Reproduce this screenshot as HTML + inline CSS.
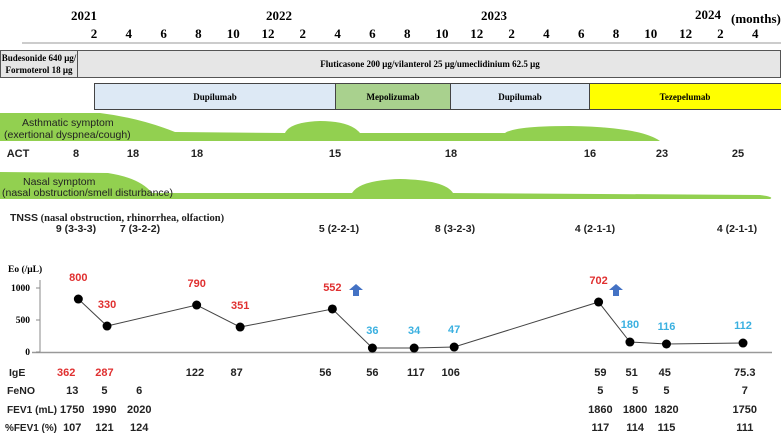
<!DOCTYPE html>
<html><head><meta charset="utf-8"><style>
body{margin:0;background:#fff;}
svg{display:block;font-family:"Liberation Sans",sans-serif;}
.s{font-family:"Liberation Serif",serif;font-weight:bold;}
.b{font-weight:bold;font-size:11px;fill:#222;}
</style></head><body>
<svg width="781" height="439" viewBox="0 0 781 439">
<g class="s" font-size="13">
<text x="71" y="20">2021</text>
<text x="266" y="20">2022</text>
<text x="481" y="20">2023</text>
<text x="695" y="19">2024</text>
<text x="731" y="23">(months)</text>
<g id="mticks" text-anchor="middle"></g>
<line x1="22" y1="43" x2="781" y2="43" stroke="#999" stroke-width="1"/>
</g>
<g class="s" font-size="9">
<rect x="0.5" y="50.5" width="77" height="27" fill="#e6e6e6" stroke="#555"/>
<text x="39" y="61" text-anchor="middle">Budesonide 640 μg/</text>
<text x="39" y="73" text-anchor="middle">Formoterol 18 μg</text>
<rect x="77.5" y="50.5" width="703" height="27" fill="#e6e6e6" stroke="#555"/>
<text x="430" y="67" text-anchor="middle">Fluticasone 200 μg/vilanterol 25 μg/umeclidinium 62.5 μg</text>
</g>
<g class="s" font-size="9">
<rect x="94.5" y="83.5" width="241" height="26" fill="#dde9f5" stroke="#444"/>
<text x="215" y="100" text-anchor="middle">Dupilumab</text>
<rect x="335.5" y="83.5" width="115" height="26" fill="#a9d18e" stroke="#444"/>
<text x="393" y="100" text-anchor="middle">Mepolizumab</text>
<rect x="450.5" y="83.5" width="139" height="26" fill="#dde9f5" stroke="#444"/>
<text x="520" y="100" text-anchor="middle">Dupilumab</text>
<rect x="589.5" y="83.5" width="192" height="26" fill="#ffff00" stroke="#444"/>
<text x="685" y="100" text-anchor="middle">Tezepelumab</text>
</g>
<g>
<path d="M0 113 L100 113 Q140 118 175 132 L285 133 Q290 122 320 121 Q350 121 360 133 L505 133 Q515 126 570 126 Q640 127 660 141 L0 141 Z" fill="#92d050"/>
<text x="22" y="126" font-size="10.5" fill="#222">Asthmatic symptom</text>
<text x="4" y="138" font-size="10.5" fill="#222">(exertional dyspnea/cough)</text>
</g>
<g class="b" text-anchor="middle">
<text x="18" y="157">ACT</text>
<text x="76" y="157">8</text><text x="133" y="157">18</text><text x="197" y="157">18</text>
<text x="335" y="157">15</text><text x="451" y="157">18</text><text x="590" y="157">16</text>
<text x="662" y="157">23</text><text x="738" y="157">25</text>
</g>
<g>
<path d="M0 172 L108 173 Q140 178 152 193 L352 193 Q360 180 400 179 Q445 180 453 193 L760 195 Q775 197 770 199 L0 199 Z" fill="#92d050"/>
<text x="23" y="185" font-size="10.5" fill="#222">Nasal symptom</text>
<text x="2" y="196" font-size="10.5" fill="#222">(nasal obstruction/smell disturbance)</text>
</g>
<g font-size="10.5" fill="#222">
<text x="10" y="221"><tspan font-weight="bold">TNSS</tspan><tspan class="s"> (nasal obstruction, rhinorrhea, olfaction)</tspan></text>
<g text-anchor="middle" font-weight="bold">
<text x="76" y="232">9 (3-3-3)</text><text x="140" y="232">7 (3-2-2)</text><text x="339" y="232">5 (2-2-1)</text>
<text x="455" y="232">8 (3-2-3)</text><text x="595" y="232">4 (2-1-1)</text><text x="737" y="232">4 (2-1-1)</text>
</g></g>
<g>
<text x="8" y="272" class="s" font-size="9.5">Eo (/μL)</text>
<line x1="40" y1="280" x2="40" y2="353" stroke="#888"/>
<line x1="32" y1="352.5" x2="772" y2="352.5" stroke="#999" stroke-width="1.5"/>
<g id="yt" class="s" font-size="9.5" text-anchor="end"></g>
<polyline id="eoLine" fill="none" stroke="#444" stroke-width="1"/>
<g id="eoPts"></g>
<g id="eoLbl" font-size="11" font-weight="bold" text-anchor="middle"></g>
<path d="M349 290 l7 -6 l7 6 h-4 v6 h-6 v-6 z" fill="#4472c4"/>
<path d="M609 290 l7 -6 l7 6 h-4 v6 h-6 v-6 z" fill="#4472c4"/>
</g>
<g class="b">
<text x="9" y="376" font-size="10.5">IgE</text><text x="7" y="394" font-size="10.5">FeNO</text>
<text x="7" y="413" font-size="10" textLength="50" lengthAdjust="spacingAndGlyphs">FEV1 (mL)</text>
<text x="5" y="431" font-size="10" textLength="52" lengthAdjust="spacingAndGlyphs">%FEV1 (%)</text>
<g id="labs" text-anchor="middle"></g>
</g>
</svg>
<script>
const monthLabels=["2","4","6","8","10","12","2","4","6","8","10","12","2","4","6","8","10","12","2","4"];
const eoMonths=[-0.9,0.75,5.9,8.4,13.7,16,18.4,20.7,29,30.8,32.9,37.3];
const eoValues=[828,406,734,390,672,62,62,78,781,156,125,140];
const eoLabels=["800","330","790","351","552","36","34","47","702","180","116","112"];
const eoLabelColor=["r","r","r","r","r","b","b","b","r","b","b","b"];
const yTicks=[0,500,1000];
const igeMonths=[-1.6,0.6,5.8,8.2,13.3,16,18.5,20.5,29.1,30.9,32.8,37.4];
const igeValues=["362","287","122","87","56","56","117","106","59","51","45","75.3"];
const igeRed=[true,true,false,false,false,false,false,false,false,false,false,false];
const fenoMonths=[-1.25,0.6,2.6,29.1,31.1,32.9,37.4];
const fenoValues=["13","5","6","5","5","5","7"];
const fev1Values=["1750","1990","2020","1860","1800","1820","1750"];
const pfev1Values=["107","121","124","117","114","115","111"];
const NS="http://www.w3.org/2000/svg";
const xm=m=>94+m*17.4;
const y=v=>352-v*0.064;
function mk(tag,attrs,parent,txt){const e=document.createElementNS(NS,tag);for(const k in attrs)e.setAttribute(k,attrs[k]);if(txt!==undefined)e.textContent=txt;parent.appendChild(e);return e;}
const mt=document.getElementById('mticks');
monthLabels.forEach((l,i)=>{const e=mk('text',{x:xm(i*2),y:38},mt,l);

});
const yt=document.getElementById('yt');
yTicks.forEach(v=>{const e=mk('text',{x:30,y:y(v)+3},yt,String(v));


mk('line',{x1:36,x2:40,y1:y(v),y2:y(v),stroke:'#888'},yt);});
document.getElementById('eoLine').setAttribute('points',eoMonths.map((m,i)=>xm(m)+','+y(eoValues[i])).join(' '));
const pts=document.getElementById('eoPts'),lb=document.getElementById('eoLbl');
eoMonths.forEach((m,i)=>{const c=mk('circle',{cx:xm(m),cy:y(eoValues[i]),r:4.5,fill:'#000'},pts);


const t=mk('text',{x:xm(m),y:y(eoValues[i])-(eoLabelColor[i]=='r'?18:14),fill:eoLabelColor[i]=='r'?'#e03030':'#3ab0e0'},lb,eoLabels[i]);

});
const labs=document.getElementById('labs');
igeMonths.forEach((m,i)=>{const t=mk('text',{x:xm(m),y:376,fill:igeRed[i]?'#e03030':'#222'},labs,igeValues[i]);

});
fenoMonths.forEach((m,i)=>{
[[fenoValues,394,'feno-value'],[fev1Values,413,'fev1-value'],[pfev1Values,431,'pfev1-value']].forEach(([arr,yy,n])=>{
const t=mk('text',{x:xm(m),y:yy},labs,arr[i]);

});});
</script>
</body></html>
